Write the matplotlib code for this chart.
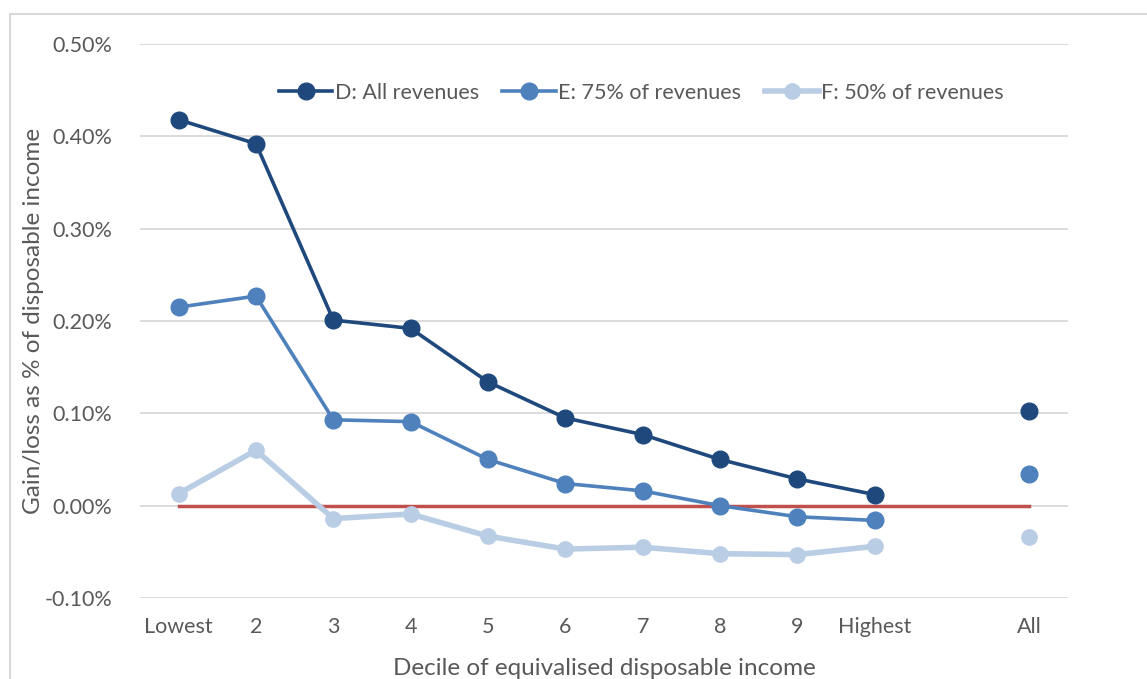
import matplotlib.pyplot as plt
from matplotlib.patches import Rectangle
from matplotlib.ticker import FuncFormatter

plt.rcParams['font.family'] = ['Lato', 'DejaVu Sans']

categories = ['Lowest', '2', '3', '4', '5', '6', '7', '8', '9', 'Highest', '', 'All']
decile_pos = list(range(10))
all_pos = 11

# values in percent of disposable income
d_all = [0.418, 0.392, 0.201, 0.192, 0.134, 0.095, 0.077, 0.050, 0.029, 0.012]
e_75 = [0.215, 0.227, 0.093, 0.091, 0.050, 0.024, 0.016, 0.000, -0.012, -0.016]
f_50 = [0.013, 0.060, -0.014, -0.009, -0.033, -0.047, -0.045, -0.052, -0.053, -0.044]
all_values = {'D': 0.102, 'E': 0.034, 'F': -0.034}

c_d = '#1f497d'
c_e = '#4f81bd'
c_f = '#b9cde5'
c_red = '#c0504d'
text_col = '#595959'

fig = plt.figure(figsize=(11.47, 6.79), dpi=100)
fig.patches.append(Rectangle((10 / 1147, -0.1), 1.2, 1 - 14 / 679 + 0.1,
                             transform=fig.transFigure, fill=False,
                             edgecolor='#d9d9d9', linewidth=1.5))
ax = fig.add_axes([140 / 1147, 1 - 598 / 679, (1068 - 140) / 1147, (598 - 44) / 679])

ax.plot([0, all_pos], [0, 0], color=c_red, linewidth=2.5, zorder=2)

ax.plot(decile_pos, d_all, '-o', color=c_d, linewidth=2.6, markersize=12,
        label='D: All revenues', zorder=5)
ax.plot(decile_pos, e_75, '-o', color=c_e, linewidth=2.6, markersize=12,
        label='E: 75% of revenues', zorder=4)
ax.plot(decile_pos, f_50, '-o', color=c_f, linewidth=4, markersize=11,
        label='F: 50% of revenues', zorder=3)
ax.plot(all_pos, all_values['D'], 'o', color=c_d, markersize=12, zorder=5)
ax.plot(all_pos, all_values['E'], 'o', color=c_e, markersize=12, zorder=4)
ax.plot(all_pos, all_values['F'], 'o', color=c_f, markersize=11, zorder=3)

ax.set_xlim(-0.5, 11.5)
ax.set_ylim(-0.1, 0.5)
ax.set_yticks([-0.1, 0.0, 0.1, 0.2, 0.3, 0.4, 0.5])
ax.yaxis.set_major_formatter(FuncFormatter(lambda v, p: f'{v:.2f}%'))
ax.set_xticks(range(len(categories)))
ax.set_xticklabels(categories)
ax.grid(axis='y', color='#d9d9d9', linewidth=1.3, zorder=0)
ax.set_axisbelow(True)
for s in ax.spines.values():
    s.set_visible(False)
ax.tick_params(length=0, labelsize=15.5, colors=text_col, pad=14)
ax.tick_params(axis='y', pad=20)

ax.set_ylabel('Gain/loss as % of disposable income', fontsize=17.5, color=text_col)
ax.yaxis.set_label_coords(-0.103, 0.5)
ax.set_xlabel('Decile of equivalised disposable income', fontsize=17.5, color=text_col, labelpad=15)

ax.legend(loc='upper center', bbox_to_anchor=(0.54, 0.965), ncol=3, frameon=False,
          fontsize=15.5, labelcolor=text_col, handlelength=2.5, handletextpad=0.1,
          columnspacing=1.1)

plt.savefig('out.png', dpi=100)
